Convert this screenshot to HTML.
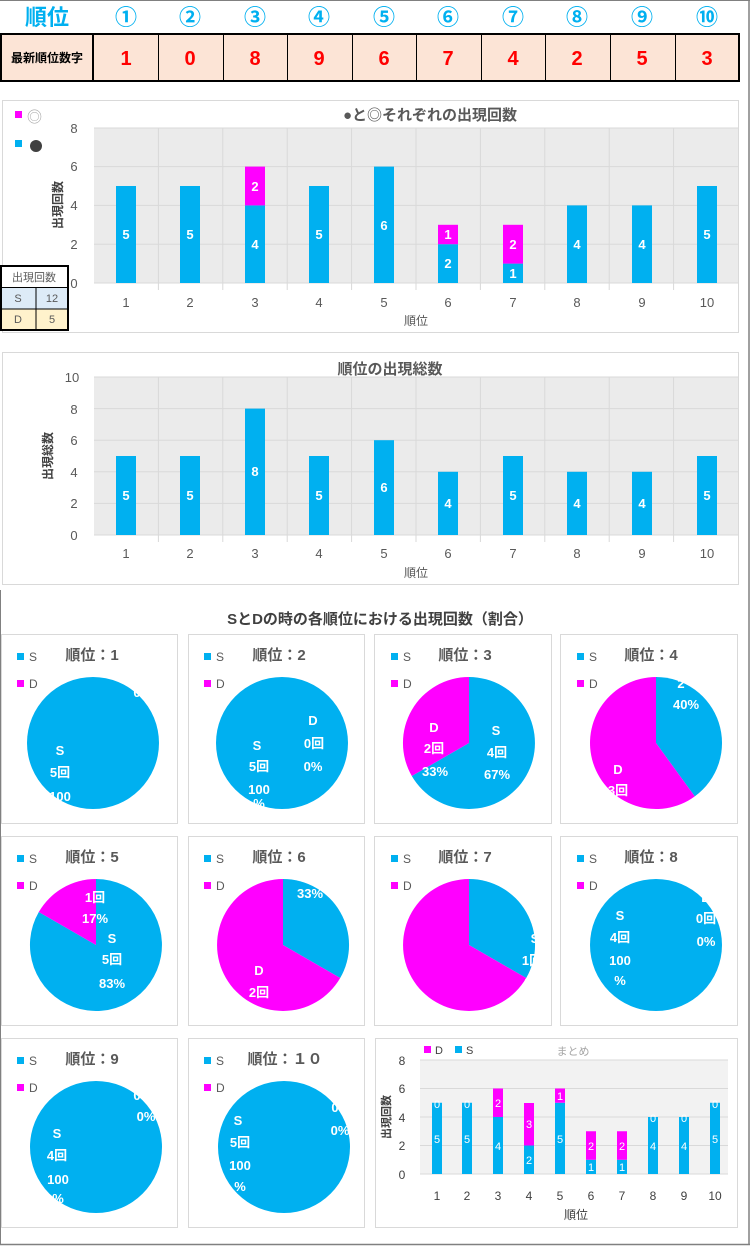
<!DOCTYPE html>
<html><head><meta charset="utf-8"><style>
html,body{margin:0;padding:0;background:#fff}
svg{display:block;font-family:"Liberation Sans","Noto Sans CJK JP",sans-serif}
.w{fill:#fff;font-weight:bold;font-size:13px;text-anchor:middle}
.t{fill:#595959;font-size:13px;text-anchor:middle}
.g{stroke:#d9d9d9;stroke-width:1}
.ttl{fill:#595959;font-weight:bold;font-size:15px;text-anchor:middle}
.lg{fill:#595959;font-size:12px}
</style></head><body>
<svg width="751" height="1246" viewBox="0 0 751 1246" xmlns="http://www.w3.org/2000/svg">
<line x1="749" y1="0" x2="749" y2="1245" stroke="#808080" stroke-width="1.5"/>
<line x1="0" y1="1244.5" x2="750" y2="1244.5" stroke="#808080" stroke-width="1.5"/>
<line x1="0.5" y1="590" x2="0.5" y2="1245" stroke="#808080" stroke-width="1"/>
<line x1="0" y1="0.5" x2="750" y2="0.5" stroke="#808080" stroke-width="1"/>

<g font-size="22" font-weight="bold" fill="#00b0f0" text-anchor="middle">
<text x="47" y="25">順位</text>
<text x="126" y="25">①</text><text x="190" y="25">②</text><text x="255" y="25">③</text><text x="319" y="25">④</text><text x="384" y="25">⑤</text><text x="448" y="25">⑥</text><text x="513" y="25">⑦</text><text x="577" y="25">⑧</text><text x="642" y="25">⑨</text><text x="707" y="25">⑩</text>
</g>
<rect x="1" y="34" width="738" height="47" fill="#fce4d6" stroke="#000" stroke-width="2"/>
<g stroke="#000" stroke-width="1"><line x1="93" y1="34" x2="93" y2="81" stroke-width="2"/><line x1="158.5" y1="34" x2="158.5" y2="81"/><line x1="223.5" y1="34" x2="223.5" y2="81"/><line x1="287.5" y1="34" x2="287.5" y2="81"/><line x1="352.5" y1="34" x2="352.5" y2="81"/><line x1="416.5" y1="34" x2="416.5" y2="81"/><line x1="481.5" y1="34" x2="481.5" y2="81"/><line x1="545.5" y1="34" x2="545.5" y2="81"/><line x1="610.5" y1="34" x2="610.5" y2="81"/><line x1="675.5" y1="34" x2="675.5" y2="81"/></g>
<text x="47" y="62" font-size="12" font-weight="bold" text-anchor="middle" fill="#000">最新順位数字</text>
<g font-size="20" font-weight="bold" fill="#ff0000" text-anchor="middle">
<text x="126" y="65">1</text><text x="190" y="65">0</text><text x="255" y="65">8</text><text x="319" y="65">9</text><text x="384" y="65">6</text><text x="448" y="65">7</text><text x="513" y="65">4</text><text x="577" y="65">2</text><text x="642" y="65">5</text><text x="707" y="65">3</text>
</g>

<rect x="2.5" y="100.5" width="736" height="232" fill="#fff" stroke="#d9d9d9"/>
<rect x="94" y="128" width="644" height="155" fill="#ebebeb"/>
<g class="g"><line x1="94" y1="128" x2="738" y2="128"/><line x1="94" y1="166.6" x2="738" y2="166.6"/><line x1="94" y1="205.4" x2="738" y2="205.4"/><line x1="94" y1="244.2" x2="738" y2="244.2"/><line x1="94" y1="283" x2="738" y2="283"/>
<line x1="158.4" y1="128" x2="158.4" y2="290"/><line x1="222.8" y1="128" x2="222.8" y2="290"/><line x1="287.2" y1="128" x2="287.2" y2="290"/><line x1="351.6" y1="128" x2="351.6" y2="290"/><line x1="416" y1="128" x2="416" y2="290"/><line x1="480.4" y1="128" x2="480.4" y2="290"/><line x1="544.8" y1="128" x2="544.8" y2="290"/><line x1="609.2" y1="128" x2="609.2" y2="290"/><line x1="673.6" y1="128" x2="673.6" y2="290"/></g>
<text x="430" y="120" class="ttl">●と◎それぞれの出現回数</text>
<rect x="15" y="111" width="7" height="7" fill="#ff00ff"/><text x="27" y="122" font-size="15" fill="#a6a6a6">◎</text>
<rect x="15" y="140" width="7" height="7" fill="#00b0f0"/><circle cx="36" cy="146" r="6" fill="#404040"/>
<g class="t"><text x="74" y="133">8</text><text x="74" y="171">6</text><text x="74" y="210">4</text><text x="74" y="249">2</text><text x="74" y="288">0</text>
<text x="126" y="307">1</text><text x="190" y="307">2</text><text x="255" y="307">3</text><text x="319" y="307">4</text><text x="384" y="307">5</text><text x="448" y="307">6</text><text x="513" y="307">7</text><text x="577" y="307">8</text><text x="642" y="307">9</text><text x="707" y="307">10</text>
<text x="416" y="325" font-size="12">順位</text></g>
<text transform="translate(62,205) rotate(-90)" font-size="12" font-weight="bold" fill="#404040" text-anchor="middle">出現回数</text>
<g fill="#00b0f0"><rect x="116" y="186" width="20" height="97"/><rect x="180" y="186" width="20" height="97"/><rect x="245" y="205.4" width="20" height="77.6"/><rect x="309" y="186" width="20" height="97"/><rect x="374" y="166.6" width="20" height="116.4"/><rect x="438" y="244.2" width="20" height="38.8"/><rect x="503" y="263.6" width="20" height="19.4"/><rect x="567" y="205.4" width="20" height="77.6"/><rect x="632" y="205.4" width="20" height="77.6"/><rect x="697" y="186" width="20" height="97"/></g>
<g fill="#ff00ff"><rect x="245" y="166.6" width="20" height="38.8"/><rect x="438" y="224.8" width="20" height="19.4"/><rect x="503" y="224.8" width="20" height="38.8"/></g>
<g class="w"><text x="126" y="239">5</text><text x="190" y="239">5</text><text x="255" y="249">4</text><text x="255" y="191">2</text><text x="319" y="239">5</text><text x="384" y="230">6</text><text x="448" y="268">2</text><text x="448" y="239">1</text><text x="513" y="278">1</text><text x="513" y="249">2</text><text x="577" y="249">4</text><text x="642" y="249">4</text><text x="707" y="239">5</text></g>
<rect x="1" y="266" width="67" height="64" fill="#fff" stroke="#000" stroke-width="2"/>
<rect x="2" y="288" width="65" height="21" fill="#ddebf7"/><rect x="2" y="309" width="65" height="20" fill="#fff2cc"/>
<g stroke="#000" stroke-width="1"><line x1="1" y1="287.5" x2="68" y2="287.5"/><line x1="1" y1="309" x2="68" y2="309"/><line x1="36" y1="287.5" x2="36" y2="330"/></g>
<g font-size="11" fill="#595959" text-anchor="middle"><text x="34" y="281">出現回数</text><text x="18" y="302">S</text><text x="52" y="302">12</text><text x="18" y="323">D</text><text x="52" y="323">5</text></g>

<rect x="2.5" y="352.5" width="736" height="232" fill="#fff" stroke="#d9d9d9"/>
<rect x="94" y="377" width="644" height="158" fill="#ebebeb"/>
<g class="g"><line x1="94" y1="377" x2="738" y2="377"/><line x1="94" y1="408.6" x2="738" y2="408.6"/><line x1="94" y1="440.2" x2="738" y2="440.2"/><line x1="94" y1="471.8" x2="738" y2="471.8"/><line x1="94" y1="503.4" x2="738" y2="503.4"/><line x1="94" y1="535" x2="738" y2="535"/>
<line x1="158.4" y1="377" x2="158.4" y2="542"/><line x1="222.8" y1="377" x2="222.8" y2="542"/><line x1="287.2" y1="377" x2="287.2" y2="542"/><line x1="351.6" y1="377" x2="351.6" y2="542"/><line x1="416" y1="377" x2="416" y2="542"/><line x1="480.4" y1="377" x2="480.4" y2="542"/><line x1="544.8" y1="377" x2="544.8" y2="542"/><line x1="609.2" y1="377" x2="609.2" y2="542"/><line x1="673.6" y1="377" x2="673.6" y2="542"/></g>
<text x="390" y="374" class="ttl" font-size="14">順位の出現総数</text>
<g class="t"><text x="72" y="382">10</text><text x="74" y="414">8</text><text x="74" y="445">6</text><text x="74" y="477">4</text><text x="74" y="508">2</text><text x="74" y="540">0</text>
<text x="126" y="558">1</text><text x="190" y="558">2</text><text x="255" y="558">3</text><text x="319" y="558">4</text><text x="384" y="558">5</text><text x="448" y="558">6</text><text x="513" y="558">7</text><text x="577" y="558">8</text><text x="642" y="558">9</text><text x="707" y="558">10</text>
<text x="416" y="577" font-size="12">順位</text></g>
<text transform="translate(52,456) rotate(-90)" font-size="12" font-weight="bold" fill="#404040" text-anchor="middle">出現総数</text>
<g fill="#00b0f0"><rect x="116" y="456" width="20" height="79"/><rect x="180" y="456" width="20" height="79"/><rect x="245" y="408.6" width="20" height="126.4"/><rect x="309" y="456" width="20" height="79"/><rect x="374" y="440.2" width="20" height="94.8"/><rect x="438" y="471.8" width="20" height="63.2"/><rect x="503" y="456" width="20" height="79"/><rect x="567" y="471.8" width="20" height="63.2"/><rect x="632" y="471.8" width="20" height="63.2"/><rect x="697" y="456" width="20" height="79"/></g>
<g class="w"><text x="126" y="500">5</text><text x="190" y="500">5</text><text x="255" y="476">8</text><text x="319" y="500">5</text><text x="384" y="492">6</text><text x="448" y="508">4</text><text x="513" y="500">5</text><text x="577" y="508">4</text><text x="642" y="508">4</text><text x="707" y="500">5</text></g>

<text x="380" y="624" font-size="15" font-weight="bold" fill="#404040" text-anchor="middle">SとDの時の各順位における出現回数（割合）</text>

<g fill="#fff" stroke="#d9d9d9"><rect x="1.5" y="634.5" width="176" height="189"/><rect x="188.5" y="634.5" width="176" height="189"/><rect x="374.5" y="634.5" width="177" height="189"/><rect x="560.5" y="634.5" width="177" height="189"/>
<rect x="1.5" y="836.5" width="176" height="189"/><rect x="188.5" y="836.5" width="176" height="189"/><rect x="374.5" y="836.5" width="177" height="189"/><rect x="560.5" y="836.5" width="177" height="189"/>
<rect x="1.5" y="1038.5" width="176" height="189"/><rect x="188.5" y="1038.5" width="176" height="189"/><rect x="375.5" y="1038.5" width="362" height="189"/></g>

<g>
<rect x="17" y="653" width="7" height="7" fill="#00b0f0"/><rect x="17" y="680" width="7" height="7" fill="#ff00ff"/><text x="29" y="661" class="lg">S</text><text x="29" y="688" class="lg">D</text>
<rect x="204" y="653" width="7" height="7" fill="#00b0f0"/><rect x="204" y="680" width="7" height="7" fill="#ff00ff"/><text x="216" y="661" class="lg">S</text><text x="216" y="688" class="lg">D</text>
<rect x="391" y="653" width="7" height="7" fill="#00b0f0"/><rect x="391" y="680" width="7" height="7" fill="#ff00ff"/><text x="403" y="661" class="lg">S</text><text x="403" y="688" class="lg">D</text>
<rect x="577" y="653" width="7" height="7" fill="#00b0f0"/><rect x="577" y="680" width="7" height="7" fill="#ff00ff"/><text x="589" y="661" class="lg">S</text><text x="589" y="688" class="lg">D</text>
<rect x="17" y="855" width="7" height="7" fill="#00b0f0"/><rect x="17" y="882" width="7" height="7" fill="#ff00ff"/><text x="29" y="863" class="lg">S</text><text x="29" y="890" class="lg">D</text>
<rect x="204" y="855" width="7" height="7" fill="#00b0f0"/><rect x="204" y="882" width="7" height="7" fill="#ff00ff"/><text x="216" y="863" class="lg">S</text><text x="216" y="890" class="lg">D</text>
<rect x="391" y="855" width="7" height="7" fill="#00b0f0"/><rect x="391" y="882" width="7" height="7" fill="#ff00ff"/><text x="403" y="863" class="lg">S</text><text x="403" y="890" class="lg">D</text>
<rect x="577" y="855" width="7" height="7" fill="#00b0f0"/><rect x="577" y="882" width="7" height="7" fill="#ff00ff"/><text x="589" y="863" class="lg">S</text><text x="589" y="890" class="lg">D</text>
<rect x="17" y="1057" width="7" height="7" fill="#00b0f0"/><rect x="17" y="1084" width="7" height="7" fill="#ff00ff"/><text x="29" y="1065" class="lg">S</text><text x="29" y="1092" class="lg">D</text>
<rect x="204" y="1057" width="7" height="7" fill="#00b0f0"/><rect x="204" y="1084" width="7" height="7" fill="#ff00ff"/><text x="216" y="1065" class="lg">S</text><text x="216" y="1092" class="lg">D</text>
</g>
<g class="ttl"><text x="92" y="660">順位：1</text><text x="279" y="660">順位：2</text><text x="465" y="660">順位：3</text><text x="651" y="660">順位：4</text>
<text x="92" y="862">順位：5</text><text x="279" y="862">順位：6</text><text x="465" y="862">順位：7</text><text x="651" y="862">順位：8</text>
<text x="92" y="1064">順位：9</text><text x="285" y="1064">順位：１０</text></g>

<circle cx="93" cy="743" r="66" fill="#00b0f0"/>
<circle cx="282" cy="743" r="66" fill="#00b0f0"/>
<path d="M469,743 L469,677 A66,66 0 1 1 411.8,776 Z" fill="#00b0f0"/><path d="M469,743 L411.8,776 A66,66 0 0 1 469,677 Z" fill="#ff00ff"/>
<path d="M656,743 L656,677 A66,66 0 0 1 694.8,796.4 Z" fill="#00b0f0"/><path d="M656,743 L694.8,796.4 A66,66 0 1 1 656,677 Z" fill="#ff00ff"/>
<path d="M96,945 L96,879 A66,66 0 1 1 38.8,912 Z" fill="#00b0f0"/><path d="M96,945 L38.8,912 A66,66 0 0 1 96,879 Z" fill="#ff00ff"/>
<path d="M283,945 L283,879 A66,66 0 0 1 340.2,978 Z" fill="#00b0f0"/><path d="M283,945 L340.2,978 A66,66 0 1 1 283,879 Z" fill="#ff00ff"/>
<path d="M469,945 L469,879 A66,66 0 0 1 526.2,978 Z" fill="#00b0f0"/><path d="M469,945 L526.2,978 A66,66 0 1 1 469,879 Z" fill="#ff00ff"/>
<circle cx="656" cy="945" r="66" fill="#00b0f0"/>
<circle cx="96" cy="1147" r="66" fill="#00b0f0"/>
<circle cx="284" cy="1147" r="66" fill="#00b0f0"/>
<g class="w">
<text x="137" y="697">0</text><text x="60" y="755">S</text><text x="60" y="777">5回</text><text x="60" y="801">100</text>
<text x="257" y="750">S</text><text x="259" y="771">5回</text><text x="259" y="794">100</text><text x="259" y="808">%</text><text x="313" y="725">D</text><text x="314" y="748">0回</text><text x="313" y="771">0%</text>
<text x="434" y="732">D</text><text x="434" y="753">2回</text><text x="435" y="776">33%</text><text x="496" y="735">S</text><text x="497" y="757">4回</text><text x="497" y="779">67%</text>
<text x="681" y="688">2</text><text x="686" y="709">40%</text><text x="618" y="774">D</text><text x="618" y="795">3回</text>
<text x="95" y="902">1回</text><text x="95" y="923">17%</text><text x="112" y="943">S</text><text x="112" y="964">5回</text><text x="112" y="988">83%</text>
<text x="310" y="898">33%</text><text x="259" y="975">D</text><text x="259" y="997">2回</text>
<text x="535" y="943">S</text><text x="532" y="965">1回</text><text x="528" y="987">3</text>
<text x="620" y="920">S</text><text x="620" y="942">4回</text><text x="620" y="965">100</text><text x="620" y="985">%</text><text x="706" y="902">D</text><text x="706" y="923">0回</text><text x="706" y="946">0%</text>
<text x="137" y="1100">0</text><text x="146" y="1121">0%</text><text x="57" y="1138">S</text><text x="57" y="1160">4回</text><text x="58" y="1184">100</text><text x="58" y="1203">%</text>
<text x="335" y="1112">0</text><text x="340" y="1135">0%</text><text x="238" y="1125">S</text><text x="240" y="1147">5回</text><text x="240" y="1170">100</text><text x="240" y="1191">%</text>
</g>

<rect x="420" y="1060" width="308" height="114" fill="#f2f2f2"/>
<g class="g"><line x1="420" y1="1060" x2="728" y2="1060"/><line x1="420" y1="1088.5" x2="728" y2="1088.5"/><line x1="420" y1="1117" x2="728" y2="1117"/><line x1="420" y1="1145.5" x2="728" y2="1145.5"/><line x1="420" y1="1174" x2="728" y2="1174"/></g>
<rect x="424" y="1046" width="7" height="7" fill="#ff00ff"/><text x="435" y="1054" font-size="11" fill="#404040">D</text>
<rect x="455" y="1046" width="7" height="7" fill="#00b0f0"/><text x="466" y="1054" font-size="11" fill="#404040">S</text>
<text x="573" y="1055" font-size="11" fill="#a6a6a6" text-anchor="middle">まとめ</text>
<g font-size="12" fill="#404040" text-anchor="middle"><text x="402" y="1065">8</text><text x="402" y="1093">6</text><text x="402" y="1122">4</text><text x="402" y="1150">2</text><text x="402" y="1179">0</text>
<text x="437" y="1200">1</text><text x="467" y="1200">2</text><text x="498" y="1200">3</text><text x="529" y="1200">4</text><text x="560" y="1200">5</text><text x="591" y="1200">6</text><text x="622" y="1200">7</text><text x="653" y="1200">8</text><text x="684" y="1200">9</text><text x="715" y="1200">10</text>
<text x="576" y="1219">順位</text></g>
<text transform="translate(390,1117) rotate(-90)" font-size="11" font-weight="bold" fill="#404040" text-anchor="middle">出現回数</text>
<g fill="#00b0f0"><rect x="432" y="1102.75" width="10" height="71.25"/><rect x="462" y="1102.75" width="10" height="71.25"/><rect x="493" y="1117" width="10" height="57"/><rect x="524" y="1145.5" width="10" height="28.5"/><rect x="555" y="1102.75" width="10" height="71.25"/><rect x="586" y="1159.75" width="10" height="14.25"/><rect x="617" y="1159.75" width="10" height="14.25"/><rect x="648" y="1117" width="10" height="57"/><rect x="679" y="1117" width="10" height="57"/><rect x="710" y="1102.75" width="10" height="71.25"/></g>
<g fill="#ff00ff"><rect x="493" y="1088.5" width="10" height="28.5"/><rect x="524" y="1103" width="10" height="42.5"/><rect x="555" y="1088.5" width="10" height="14.25"/><rect x="586" y="1131.25" width="10" height="28.5"/><rect x="617" y="1131.25" width="10" height="28.5"/></g>
<g fill="#fff" font-size="11" text-anchor="middle">
<text x="437" y="1108">0</text><text x="437" y="1143">5</text><text x="467" y="1108">0</text><text x="467" y="1143">5</text><text x="498" y="1107">2</text><text x="498" y="1150">4</text><text x="529" y="1128">3</text><text x="529" y="1164">2</text><text x="560" y="1100">1</text><text x="560" y="1143">5</text><text x="591" y="1150">2</text><text x="591" y="1171">1</text><text x="622" y="1150">2</text><text x="622" y="1171">1</text><text x="653" y="1122">0</text><text x="653" y="1150">4</text><text x="684" y="1122">0</text><text x="684" y="1150">4</text><text x="715" y="1108">0</text><text x="715" y="1143">5</text></g>
</svg>
</body></html>
